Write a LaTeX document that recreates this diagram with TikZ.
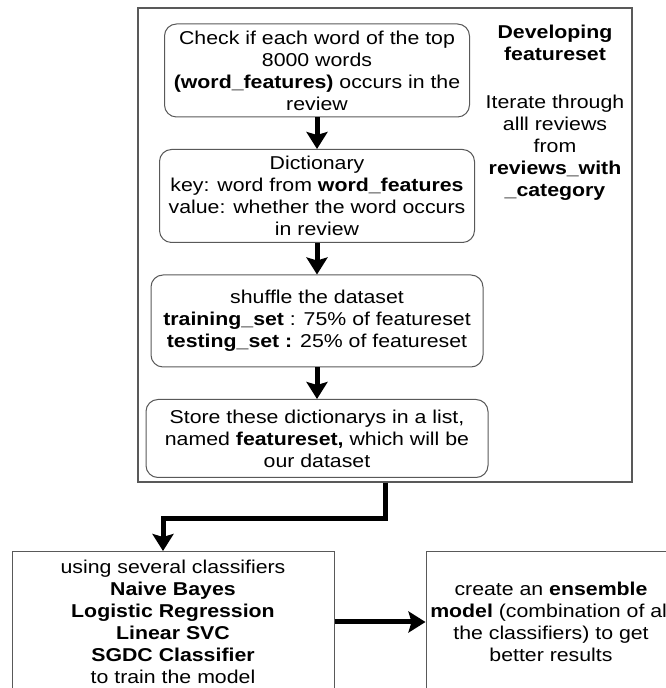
\documentclass[tikz,border=0pt]{standalone}
\usepackage{fontspec}
\setmainfont{Liberation Sans}[FakeStretch=1.145]
\usepackage{tikz}
\usetikzlibrary{arrows.meta, positioning}
\tikzstyle{block}=[draw=black!65,line width=1pt,rounded corners=12pt,rectangle,align=center,inner sep=0pt]
\tikzstyle{plain}=[draw=black!65,line width=1pt,rectangle,align=center,inner sep=0pt]
\tikzstyle{flow}=[line width=5pt,-{Stealth[length=17pt,width=21pt,inset=3pt]}]
\tikzstyle{every node}=[font=\fontsize{18.6}{22}\selectfont]

\begin{document}
\begin{tikzpicture}[x=1pt,y=1pt,node distance=31.5pt]
    \useasboundingbox (0,0) rectangle (666,688);
    \clip (0,0) rectangle (666,688);
    % outer frame and its side note
    \node[plain, minimum width=494pt, minimum height=474pt, line width=1.2pt] (frame) at (385,443) {};
    \node[align=center, inner sep=0pt] (note) at (555,575.5) {\textbf{Developing}\\\textbf{featureset}\\[26pt]Iterate through\\alll reviews\\from\\\textbf{reviews\_with}\\\textbf{\_category}};
    % steps inside the frame
    \node[block, minimum width=305pt, minimum height=93pt] (check) at (317,617.5) {Check if each word of the top\\8000 words\\\textbf{(word\_features)} occurs in the\\review};
    \node[block, below=of check, minimum width=315pt, minimum height=93pt] (dict) {Dictionary\\key: word from \textbf{word\_features}\\value: whether the word occurs\\in review};
    \node[block, below=of dict, minimum width=332pt, minimum height=92pt] (shuffle) {shuffle the dataset\\\textbf{training\_set} : 75\% of featureset\\\textbf{testing\_set :} 25\% of featureset};
    \node[block, below=of shuffle, minimum width=342pt, minimum height=78pt] (store) {Store these dictionarys in a list,\\named \textbf{featureset,} which will be\\our dataset};
    % classifiers
    \node[plain, minimum width=322pt, minimum height=141pt] (train) at (173,66) {using several classifiers\\\textbf{Naive Bayes}\\\textbf{Logistic Regression}\\\textbf{Linear SVC}\\\textbf{SGDC Classifier}\\to train the model};
    \node[plain, right=91pt of train, minimum width=250pt, minimum height=141pt] (ensemble) {create an \textbf{ensemble}\\\textbf{model} (combination of all\\the classifiers) to get\\better results};
    \coordinate (trainin) at ([xshift=-10pt]train.north);
    \draw[flow] (check) -- (dict);
    \draw[flow] (dict) -- (shuffle);
    \draw[flow] (shuffle) -- (store);
    \draw[flow] (frame.south) -- ++(0,-35.5) -| (trainin);
    \draw[flow] (train) -- (ensemble);
\end{tikzpicture}
\end{document}
